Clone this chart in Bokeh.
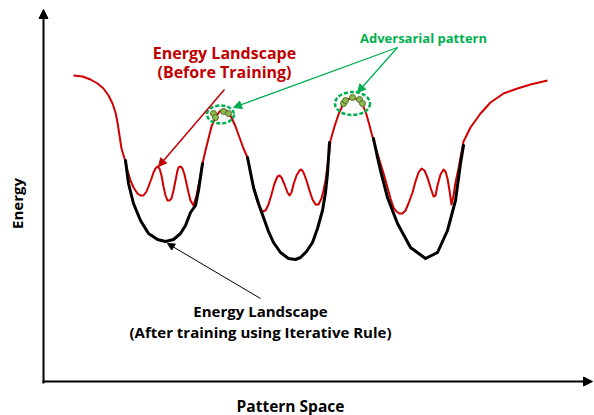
from bokeh.plotting import figure
from bokeh.models import Range1d, Arrow, NormalHead
from bokeh.core.properties import value
from bokeh.embed import file_html
from bokeh.resources import INLINE
import math

# ---- data (pattern-space position, energy depth in screen units; y grows downward) ----
before_x = [73, 82, 90, 97, 103, 108, 112, 115, 117, 119, 121, 124,
            127, 130, 133, 137, 140, 143, 146, 148, 151, 153, 155, 157, 159, 161, 163, 165, 167, 169, 171, 173,
            175, 177, 178, 180, 182, 184, 186, 188, 190, 193, 196, 199, 202,
            205, 208, 211, 215, 219, 223, 227, 231, 235, 239, 243, 247,
            250, 253, 256, 259, 262, 265, 268, 271, 274, 277, 279, 281, 284, 287, 289, 291, 293, 296, 299, 301,
            303, 306, 309, 312, 315, 318, 321, 323, 325, 327, 329, 330,
            334, 338, 342, 347, 352, 357, 362, 366, 369, 373,
            376, 380, 384, 387, 390, 393, 396, 399, 402, 405, 408, 412, 415, 418, 421, 424, 427, 430, 433, 435,
            437, 440, 443, 445, 447, 449, 451, 453, 455, 458, 460, 463,
            470, 480, 490, 503, 517, 530, 547]
before_y = [75, 76, 79, 83, 88, 95, 103, 112, 122, 135, 148, 158,
            170, 180, 187, 193, 195, 195, 191, 186, 178, 172, 168, 166, 168, 175, 186, 195, 200, 200, 198, 190,
            180, 170, 167, 166, 168, 174, 183, 192, 200, 205, 195, 180, 163,
            150, 138, 126, 117, 111, 109, 111, 117, 126, 137, 148, 157,
            172, 186, 198, 207, 211, 210, 204, 194, 183, 176, 175, 177, 184, 192, 195, 192, 184, 175, 170, 169,
            172, 180, 190, 199, 204, 204, 198, 190, 180, 165, 150, 140,
            126, 114, 105, 99, 97, 99, 104, 114, 125, 140,
            150, 163, 176, 187, 198, 207, 211, 213, 213, 210, 203, 192, 181, 172, 168, 170, 177, 187, 196, 195,
            185, 174, 169, 171, 178, 190, 204, 195, 182, 168, 157, 141,
            127, 113, 102, 93, 88, 84, 80]

after1_x = [125, 128, 133, 140, 148, 157, 165, 173, 180, 185, 190, 195, 198, 202]
after1_y = [160, 183, 203, 220, 233, 239, 241, 239, 233, 225, 212, 205, 190, 163]
after2_x = [247, 250, 253, 258, 263, 268, 273, 280, 288, 295, 300, 306, 312, 317, 322, 325, 327, 329]
after2_y = [157, 172, 187, 203, 217, 231, 242, 252, 258, 259, 257, 251, 242, 228, 210, 192, 173, 142]
after3_x = [373, 377, 380, 387, 397, 410, 425, 437, 447, 455, 460, 463]
after3_y = [138, 157, 170, 197, 223, 247, 258, 252, 230, 200, 163, 145]

adv1_x = [213, 215, 223, 228]
adv1_y = [113, 117, 111, 113]
adv2_x = [343, 345, 352, 359, 362]
adv2_y = [103, 100, 97, 99, 103]

RED = "#D00000"
DARKRED = "#C00000"
GREEN = "#00B050"
FONT = value("Open Sans")

p = figure(width=594, height=415, x_range=Range1d(0, 594), y_range=Range1d(415, 0),
           output_backend="svg", toolbar_location=None, min_border=0)
p.axis.visible = False
p.grid.visible = False
p.outline_line_color = None
p.background_fill_color = "white"

# axes with arrow heads
p.add_layout(Arrow(x_start=43, y_start=383, x_end=43, y_end=9, line_width=2, line_color="black",
                   end=NormalHead(size=9, fill_color="black", line_color="black")))
p.add_layout(Arrow(x_start=42, y_start=381, x_end=592, y_end=381, line_width=2, line_color="black",
                   end=NormalHead(size=9, fill_color="black", line_color="black")))

# curves
p.line(before_x, before_y, line_color=RED, line_width=2, line_join="round")
for xs, ys in [(after1_x, after1_y), (after2_x, after2_y), (after3_x, after3_y)]:
    p.line(xs, ys, line_color="black", line_width=3, line_join="round", line_cap="round")

# adversarial ellipses + dots
p.ellipse(x=[220, 352], y=[114, 103], width=[27, 35], height=[18, 23], fill_color=None,
          line_color=GREEN, line_width=2.5, line_dash="4 2")
p.scatter(adv1_x + adv2_x, adv1_y + adv2_y, size=6, fill_color="#8DB84A", line_color="#4E6B2B", line_width=1)

# annotation arrows
p.add_layout(Arrow(x_start=224, y_start=89, x_end=158, y_end=166, line_width=1.5, line_color=DARKRED,
                   end=NormalHead(size=8, fill_color=DARKRED, line_color=DARKRED)))
p.add_layout(Arrow(x_start=397, y_start=47, x_end=233, y_end=107, line_width=1.3, line_color=GREEN,
                   end=NormalHead(size=8, fill_color=GREEN, line_color=GREEN)))
p.add_layout(Arrow(x_start=397, y_start=47, x_end=357, y_end=92, line_width=1.3, line_color=GREEN,
                   end=NormalHead(size=8, fill_color=GREEN, line_color=GREEN)))
p.add_layout(Arrow(x_start=260, y_start=298, x_end=167, y_end=243, line_width=1, line_color="black",
                   end=NormalHead(size=7, fill_color="black", line_color="black")))

# labels
p.text(x=[224, 224], y=[52, 71], text=["Energy Landscape", "(Before Training)"], text_align="center",
       text_baseline="middle", text_color=DARKRED, text_font=FONT, text_font_style="bold",
       text_font_size="16px")
p.text(x=[423], y=[37], text=["Adversarial pattern"], text_align="center", text_baseline="middle",
       text_color=GREEN, text_font=FONT, text_font_style="bold", text_font_size="13px")
p.text(x=[260, 260], y=[310, 331], text=["Energy Landscape", "(After training using Iterative Rule)"],
       text_align="center", text_baseline="middle", text_color="black", text_font=FONT,
       text_font_style="bold", text_font_size="15px")
p.text(x=[290], y=[405], text=["Pattern Space"], text_align="center", text_baseline="middle",
       text_color="black", text_font=FONT, text_font_style="bold", text_font_size="15.5px")
p.text(x=[16], y=[203], text=["Energy"], angle=math.pi / 2, text_align="center", text_baseline="middle",
       text_color="black", text_font=FONT, text_font_style="bold", text_font_size="15px")

open("out.html", "w").write(file_html(p, INLINE))
